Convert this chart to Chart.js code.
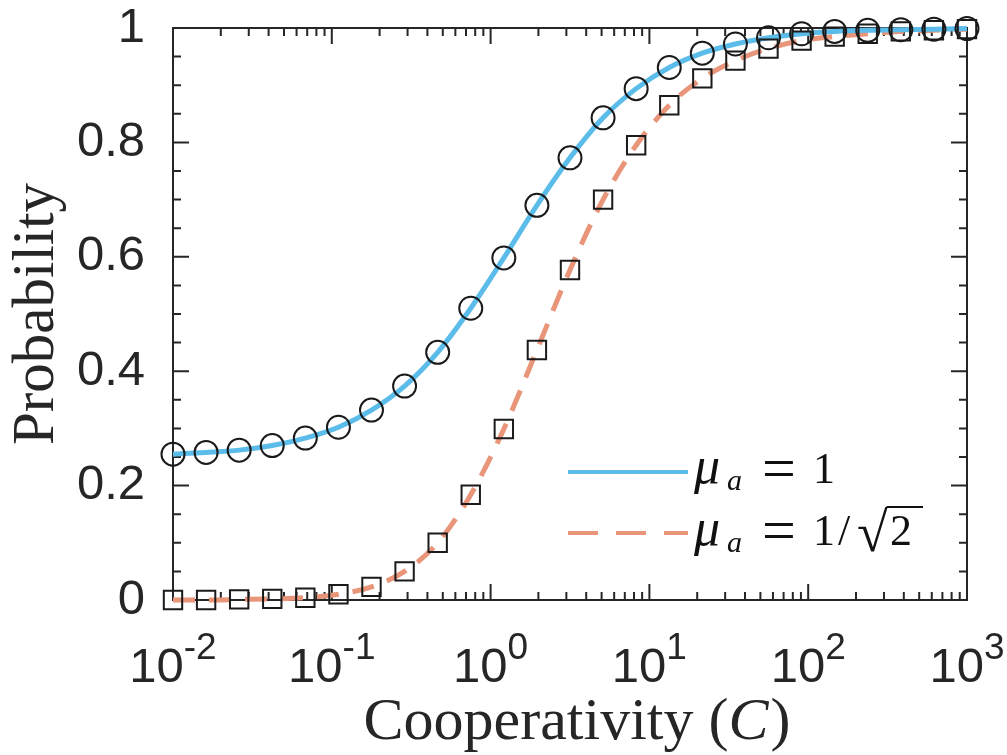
<!DOCTYPE html>
<html>
<head>
<meta charset="utf-8">
<script src="https://cdn.jsdelivr.net/npm/chart.js@4.4.0/dist/chart.umd.min.js"></script>
<style>
  html, body { margin: 0; padding: 0; background: #fff; }
</style>
</head>
<body>
<canvas id="coop-chart" width="1007" height="755"></canvas>
<script>
// x values: cooperativity C (log spaced, 10^-2 .. 10^3)
const cooperativity = [
  0.01, 0.01616, 0.0261, 0.04217, 0.06813, 0.1101, 0.1778, 0.2873, 0.4642,
  0.7499, 1.2115, 1.957, 3.162, 5.109, 8.254, 13.34, 21.54, 34.81, 56.23,
  90.85, 146.8, 237.1, 383.1, 618.9, 1000
];
// mu_a = 1  (blue, circles)
const probMuOne = [
  0.255, 0.258, 0.262, 0.270, 0.283, 0.302, 0.332, 0.374, 0.433, 0.510,
  0.598, 0.690, 0.773, 0.843, 0.894, 0.931, 0.956, 0.972, 0.983, 0.990,
  0.994, 0.996, 0.997, 0.998, 0.999
];
// mu_a = 1/sqrt(2)  (salmon dashed, squares)
const probMuRoot2 = [
  0.000, 0.000, 0.001, 0.002, 0.004, 0.010, 0.023, 0.050, 0.100, 0.184,
  0.299, 0.437, 0.577, 0.700, 0.795, 0.865, 0.912, 0.943, 0.964, 0.978,
  0.985, 0.990, 0.994, 0.996, 0.998
];
const xDecades = [-2, -1, 0, 1, 2, 3];
const yTicks = [0, 0.2, 0.4, 0.6, 0.8, 1];

const BLUE = "#5bbcea";
const SALMON = "#e8957a";
const AXIS = "#262626";
const SERIF = "'Liberation Serif', 'Times New Roman', serif";

function pts(ys) {
  return cooperativity.map((c, i) => ({ x: c, y: ys[i] }));
}

// box, inward ticks on all four sides, x labels with exponents, x title, legend
const matlabAxes = {
  id: "matlabAxes",
  beforeDatasetsDraw(chart) {
    const { ctx, chartArea: a, scales } = chart;
    const xs = scales.x, ys = scales.y;
    ctx.save();
    ctx.strokeStyle = AXIS;
    ctx.lineWidth = 2;
    ctx.strokeRect(a.left, a.top, a.right - a.left, a.bottom - a.top);
    ctx.beginPath();
    // y ticks every 0.05, major every 0.2
    for (let i = 0; i <= 20; i++) {
      const y = ys.getPixelForValue(i * 0.05);
      const len = i % 4 === 0 ? 16 : 8;
      ctx.moveTo(a.left, y); ctx.lineTo(a.left + len, y);
      ctx.moveTo(a.right, y); ctx.lineTo(a.right - len, y);
    }
    // x ticks: decades major, 2..9 minor
    for (let k = -2; k <= 3; k++) {
      for (let m = 1; m <= 9; m++) {
        if (k === 3 && m > 1) break;
        const x = xs.getPixelForValue(m * Math.pow(10, k));
        const len = m === 1 ? 16 : 8;
        ctx.moveTo(x, a.bottom); ctx.lineTo(x, a.bottom - len);
        ctx.moveTo(x, a.top); ctx.lineTo(x, a.top + len);
      }
    }
    ctx.stroke();
    ctx.restore();
  },
  afterDraw(chart) {
    const { ctx, chartArea: a, scales } = chart;
    const xs = scales.x;
    ctx.save();
    ctx.fillStyle = AXIS;
    ctx.textBaseline = "alphabetic";
    ctx.textAlign = "left";

    // x tick labels 10^k
    const baseFont = "49px 'Liberation Sans', Arial, sans-serif";
    const expFont = "37px 'Liberation Sans', Arial, sans-serif";
    xDecades.forEach(k => {
      const px = xs.getPixelForValue(Math.pow(10, k));
      ctx.font = baseFont;
      const w1 = ctx.measureText("10").width;
      ctx.font = expFont;
      const e = String(k);
      const w2 = ctx.measureText(e).width;
      const x0 = px - (w1 + w2) / 2;
      ctx.font = baseFont;
      ctx.fillText("10", x0, 682);
      ctx.font = expFont;
      ctx.fillText(e, x0 + w1, 659);
    });

    // x title: Cooperativity (C)
    const partA = "Cooperativity (", partC = "C", partB = ")";
    ctx.font = "60px " + SERIF;
    const wa = ctx.measureText(partA).width, wb = ctx.measureText(partB).width;
    ctx.font = "italic 60px " + SERIF;
    const wc = ctx.measureText(partC).width;
    const tx = (a.left + a.right) / 2 + 6 - (wa + wb + wc) / 2;
    ctx.font = "60px " + SERIF;
    ctx.fillText(partA, tx, 739);
    ctx.font = "italic 60px " + SERIF;
    ctx.fillText(partC, tx + wa, 739);
    ctx.font = "60px " + SERIF;
    ctx.fillText(partB, tx + wa + wc + 2, 739);

    // legend
    ctx.lineWidth = 4;
    ctx.strokeStyle = BLUE;
    ctx.beginPath(); ctx.moveTo(568, 472); ctx.lineTo(688, 472); ctx.stroke();
    ctx.strokeStyle = SALMON;
    ctx.setLineDash([30, 18]);
    ctx.beginPath(); ctx.moveTo(568, 533); ctx.lineTo(688, 533); ctx.stroke();
    ctx.setLineDash([]);

    ctx.fillStyle = "#111";
    ctx.strokeStyle = "#111";
    [[483, false], [545, true]].forEach(([base, root]) => {
      ctx.font = "italic 52px " + SERIF;
      ctx.fillText("\u03bc", 694, base);
      ctx.font = "italic 30px " + SERIF;
      ctx.fillText("a", 727, base + 7);
      ctx.font = "60px " + SERIF;
      ctx.fillText("=", 762, base + 5);
      ctx.font = "44px " + SERIF;
      ctx.fillText("1", 813, base);
      if (root) {
        ctx.fillText("/", 838, base);
        ctx.font = "56px " + SERIF;
        const rx = 857;
        ctx.fillText("\u221a", rx, base + 6);
        const m = ctx.measureText("\u221a");
        const top = base + 6 - m.actualBoundingBoxAscent;
        ctx.font = "44px " + SERIF;
        ctx.fillText("2", 890, base);
        ctx.lineWidth = 2;
        ctx.beginPath();
        ctx.moveTo(rx + m.actualBoundingBoxRight - 1.5, top + 1);
        ctx.lineTo(923, top + 1);
        ctx.stroke();
      }
    });
    ctx.restore();
  }
};

const chart = new Chart(document.getElementById("coop-chart"), {
  type: "line",
  data: {
    datasets: [
      {
        label: "mu_a = 1 (markers)",
        data: pts(probMuOne),
        showLine: false,
        pointStyle: "circle",
        pointRadius: 11.5,
        pointBorderWidth: 2,
        pointBorderColor: "#1a1a1a",
        pointBackgroundColor: "rgba(0,0,0,0)",
        clip: false,
        order: 0
      },
      {
        label: "mu_a = 1/sqrt2 (markers)",
        data: pts(probMuRoot2),
        showLine: false,
        pointStyle: "rect",
        pointRadius: 13,
        pointBorderWidth: 2,
        pointBorderColor: "#1a1a1a",
        pointBackgroundColor: "rgba(0,0,0,0)",
        clip: false,
        order: 1
      },
      {
        label: "\u03bc_a = 1",
        data: pts(probMuOne),
        borderColor: BLUE,
        borderWidth: 5,
        pointRadius: 0,
        cubicInterpolationMode: "monotone",
        fill: false,
        clip: false,
        order: 2
      },
      {
        label: "\u03bc_a = 1/\u221a2",
        data: pts(probMuRoot2),
        borderColor: SALMON,
        borderWidth: 5,
        borderDash: [22, 14],
        pointRadius: 0,
        cubicInterpolationMode: "monotone",
        fill: false,
        clip: false,
        order: 3
      }
    ]
  },
  options: {
    responsive: false,
    animation: false,
    layout: { padding: { top: 28, right: 40, left: 0, bottom: 0 } },
    plugins: { legend: { display: false }, tooltip: { enabled: false } },
    scales: {
      x: {
        type: "logarithmic",
        min: 0.01,
        max: 1000,
        grid: { display: false },
        border: { display: false },
        ticks: { display: false },
        afterFit: s => { s.height = 155; s.paddingLeft = 0; s.paddingRight = 0; }
      },
      y: {
        min: 0,
        max: 1,
        grid: { display: false },
        border: { display: false },
        afterBuildTicks: s => { s.ticks = yTicks.map(v => ({ value: v })); },
        ticks: {
          padding: 20,
          color: AXIS,
          font: { family: "'Liberation Sans', Arial, sans-serif", size: 49 },
          callback: v => (v === 0 || v === 1 ? String(v) : v.toFixed(1))
        },
        title: {
          display: true,
          text: "Probability",
          color: AXIS,
          font: { family: SERIF, size: 59 },
          padding: { top: 2, bottom: 0 }
        },
        afterFit: s => { s.width = 173; s.paddingTop = 0; s.paddingBottom = 0; }
      }
    }
  },
  plugins: [matlabAxes]
});
</script>
</body>
</html>
